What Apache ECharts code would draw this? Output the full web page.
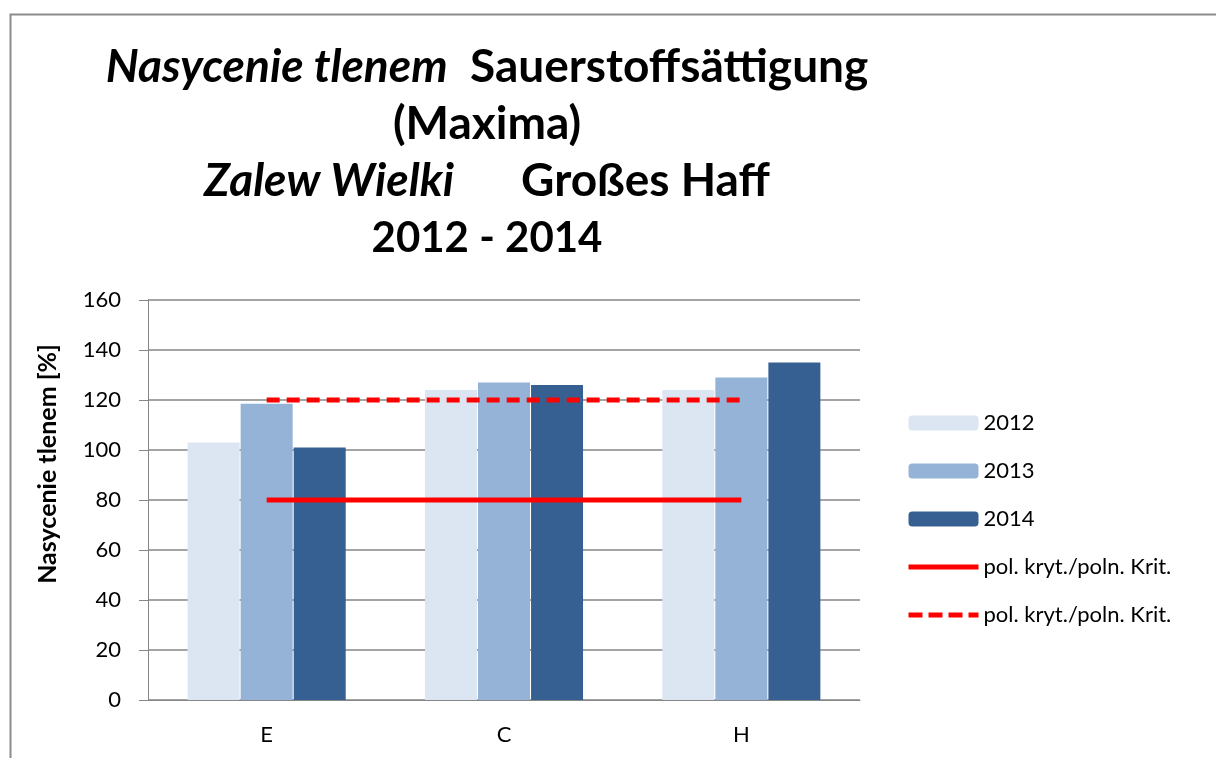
<!DOCTYPE html>
<html>
<head>
<meta charset="utf-8">
<script src="https://cdn.jsdelivr.net/npm/echarts@6/dist/echarts.min.js"></script>
<style>
  html, body { margin: 0; padding: 0; background: #fff; }
</style>
</head>
<body>
<!-- chart box -->
<div id="main" style="width: 1216px;height:758px;"></div>
<script>
// stations along the lagoon
var categories = ['E', 'C', 'H']
var years = ['2012', '2013', '2014']
// oxygen saturation maxima [%]
var values2012 = [103, 124, 124]
var values2013 = [118.5, 127, 129]
var values2014 = [101, 126, 135]
// criteria lines
var critLow = [80, 80, 80]
var critHigh = [120, 120, 120]
var critName = 'pol. kryt./poln. Krit.'
var yTicks = [0, 20, 40, 60, 80, 100, 120, 140, 160]

var barColors = ['#DCE6F2', '#95B3D7', '#376092']
var font = 'Lato'

var myChart = echarts.init(document.getElementById('main'))

var barSeries = [values2012, values2013, values2014].map(function (d, i) {
  return {
    name: years[i],
    type: 'bar',
    data: d,
    barWidth: 52,
    barGap: '2%',
    itemStyle: { color: barColors[i] }
  }
})

// legend entries for the lines: no circle in the icon
var hideDot = { color: 'rgba(0,0,0,0)', borderWidth: 0 }

var option = {
  backgroundColor: '#fff',
  animation: false,
  title: {
    left: 482,
    top: 34,
    textAlign: 'center',
    text: '{i|Nasycenie tlenem}{n|  Sauerstoffsättigung}\n{n|(Maxima)}\n{i|Zalew Wielki}{n|      Großes Haff}\n{y|2012 - 2014}',
    textStyle: {
      fontFamily: font,
      fontSize: 46,
      fontWeight: 'bold',
      lineHeight: 57,
      color: '#000',
      rich: {
        i: { fontFamily: font, fontSize: 46, fontWeight: 'bold', fontStyle: 'italic', color: '#000', lineHeight: 57 },
        n: { fontFamily: font, fontSize: 46, fontWeight: 'bold', color: '#000', lineHeight: 57 },
        y: { fontFamily: font, fontSize: 42, fontWeight: 'bold', color: '#000', lineHeight: 57 }
      }
    }
  },
  graphic: [
    {
      type: 'rect',
      left: 8,
      top: 12,
      shape: { width: 1300, height: 800 },
      style: { fill: 'none', stroke: '#8c8c8c', lineWidth: 2 },
      z: -1
    }
  ],
  legend: {
    orient: 'vertical',
    left: 901,
    top: 407,
    itemWidth: 70,
    itemHeight: 15,
    itemGap: 26,
    textStyle: { fontFamily: font, fontSize: 22, color: '#000' },
    data: years.concat([
      { name: critName, itemStyle: hideDot, lineStyle: { width: 5 } },
      { name: critName + ' ', itemStyle: hideDot, lineStyle: { width: 5, type: [14, 6] } }
    ])
  },
  grid: {
    left: 148,
    right: 356,
    top: 300,
    bottom: 58
  },
  xAxis: {
    type: 'category',
    data: categories,
    axisLine: { lineStyle: { color: '#868686', width: 1 } },
    axisTick: { show: false },
    axisLabel: { fontFamily: font, fontSize: 22, color: '#000', margin: 24 }
  },
  yAxis: {
    type: 'value',
    min: yTicks[0],
    max: yTicks[yTicks.length - 1],
    interval: 20,
    name: 'Nasycenie tlenem [%]',
    nameLocation: 'middle',
    nameGap: 88,
    nameTextStyle: { fontFamily: font, fontSize: 25, fontWeight: 'bold', color: '#000', padding: [0, 0, 0, 72] },
    axisLine: { show: true, lineStyle: { color: '#868686', width: 1 } },
    axisTick: { show: true, length: 9, lineStyle: { color: '#868686' } },
    axisLabel: { fontFamily: font, fontSize: 22, color: '#000', margin: 27 },
    splitLine: { lineStyle: { color: '#868686', width: 1.5 } }
  },
  series: barSeries.concat([
    {
      name: critName,
      type: 'line',
      data: critLow,
      symbol: 'none',
      lineStyle: { color: '#ff0000', width: 5 },
      itemStyle: { color: '#ff0000' },
      z: 5
    },
    {
      name: critName + ' ',
      type: 'line',
      data: critHigh,
      symbol: 'none',
      lineStyle: { color: '#ff0000', width: 5, type: [13, 7] },
      itemStyle: { color: '#ff0000' },
      z: 5
    }
  ])
}

myChart.setOption(option)
</script>
</body>
</html>
